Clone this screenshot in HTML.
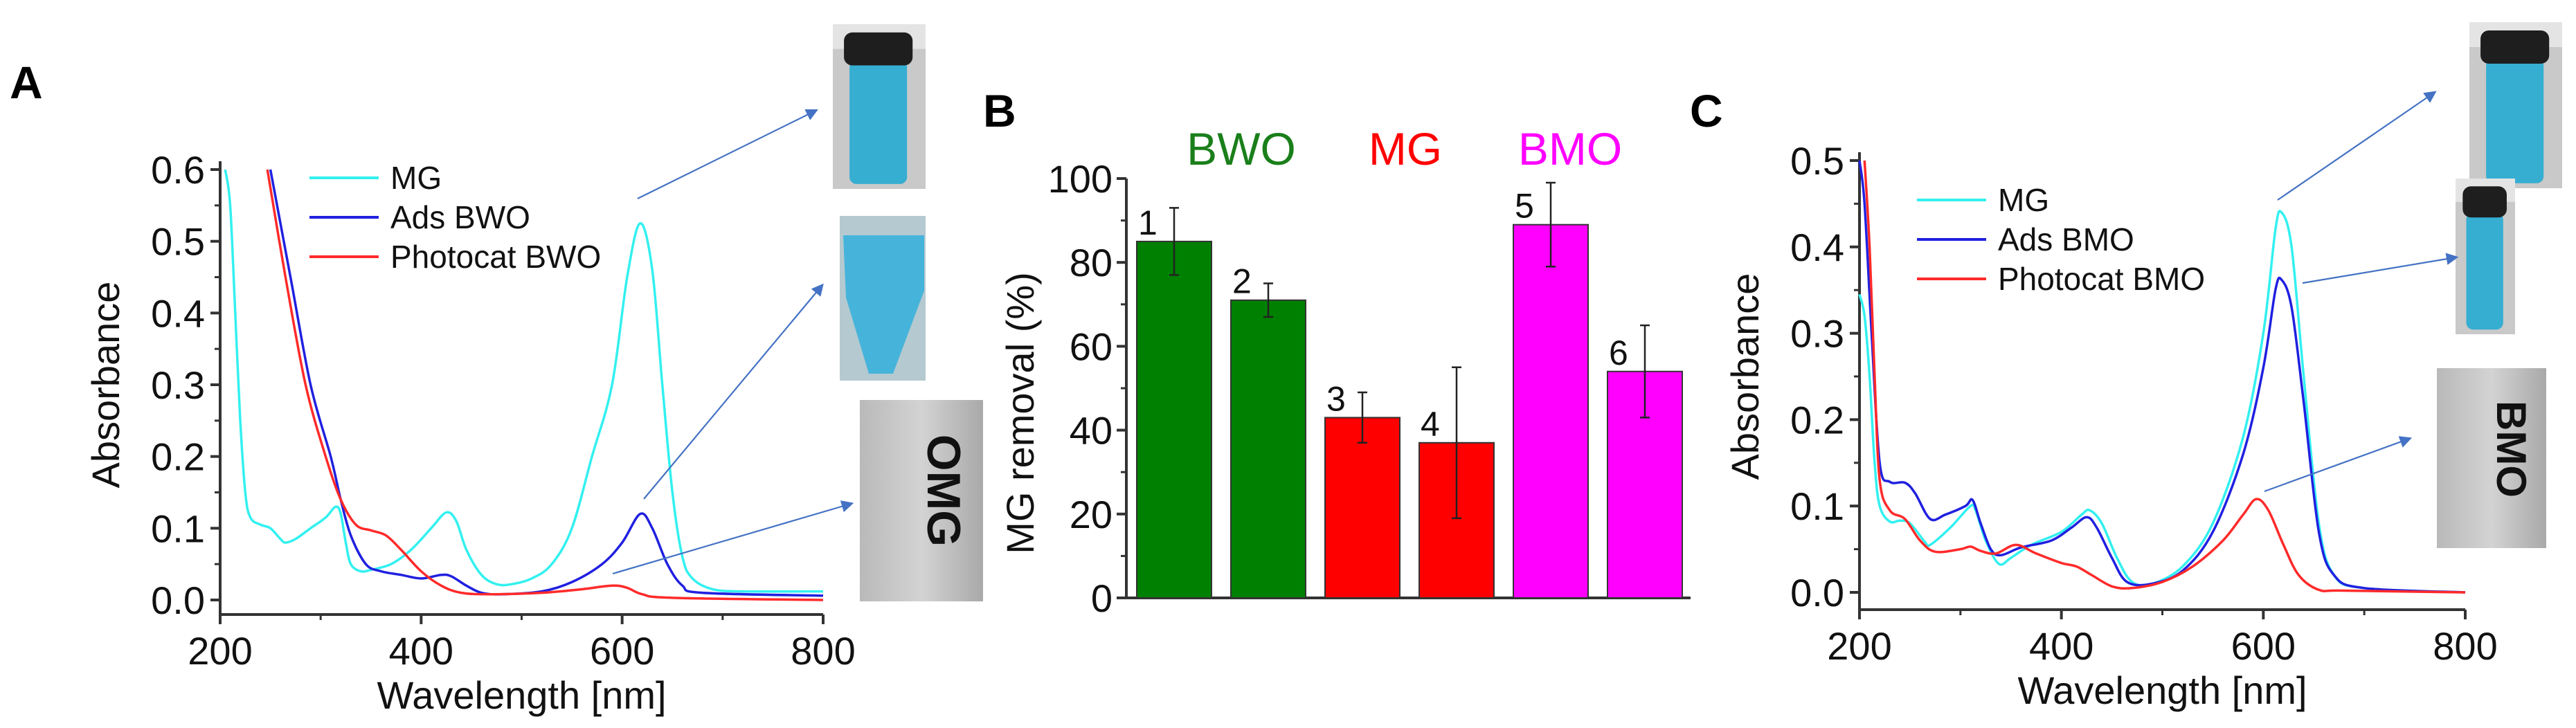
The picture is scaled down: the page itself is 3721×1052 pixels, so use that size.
<!DOCTYPE html>
<html><head><meta charset="utf-8"><style>
html,body{margin:0;padding:0;background:#fff;}
svg{display:block;font-family:"Liberation Sans",Arial,sans-serif;}
</style></head><body>
<svg id="fig" width="3721" height="1052" viewBox="0 0 3721 1052" xmlns="http://www.w3.org/2000/svg">
<defs>
<marker id="ah" markerWidth="8" markerHeight="8" refX="6" refY="4" orient="auto" markerUnits="strokeWidth"><path d="M0,0 L8,4 L0,8 z" fill="#4472c4"/></marker>
<linearGradient id="grey1" x1="0" y1="0" x2="1" y2="0"><stop offset="0" stop-color="#b9b9b9"/><stop offset="0.5" stop-color="#d3d3d3"/><stop offset="1" stop-color="#a9a9a9"/></linearGradient>
</defs>
<g id="root"></g>
</svg>
<script>
// ---------- Panel A data ----------
const aMgX=[205,210,215,220,225,230,240,250,260,265,275,290,305,315,320,325,330,340,350,370,390,410,425,435,445,460,475,490,510,530,550,570,590,605,618,630,640,650,660,670,690,720,800];
const aMgY=[0.6,0.55,0.4,0.25,0.15,0.115,0.105,0.1,0.085,0.08,0.085,0.1,0.115,0.13,0.12,0.08,0.05,0.04,0.042,0.05,0.07,0.1,0.122,0.11,0.07,0.035,0.022,0.022,0.03,0.05,0.1,0.2,0.3,0.45,0.525,0.46,0.3,0.15,0.06,0.03,0.015,0.012,0.012];
const aAdsX=[250,270,290,310,320,330,345,360,380,400,420,430,445,460,480,520,550,580,600,618,630,645,660,680,800];
const aAdsY=[0.6,0.45,0.3,0.2,0.14,0.09,0.05,0.04,0.035,0.03,0.035,0.033,0.02,0.01,0.008,0.012,0.025,0.05,0.08,0.12,0.1,0.05,0.02,0.01,0.006];
const aPhX=[247,265,285,305,320,335,350,365,380,400,420,440,470,520,560,590,605,620,650,800];
const aPhY=[0.6,0.45,0.3,0.2,0.14,0.105,0.097,0.09,0.07,0.04,0.02,0.01,0.008,0.01,0.015,0.02,0.017,0.008,0.003,0.0];
const aXTicks=[200,400,600,800];
const aYTicks=[0.0,0.1,0.2,0.3,0.4,0.5,0.6];
// ---------- Panel B data ----------
const bCats=["1","2","3","4","5","6"];
const bVals=[85,71,43,37,89,54];
const bErr=[8,4,6,18,10,11];
const bColors=["#008000","#008000","#ff0000","#ff0000","#ff00ff","#ff00ff"];
const bYTicks=[0,20,40,60,80,100];
// ---------- Panel C data ----------
const cMgX=[200,205,210,215,220,230,240,250,265,270,290,310,315,325,338,350,370,400,420,428,440,455,470,490,520,550,580,600,612,618,628,640,655,670,700,800];
const cMgY=[0.345,0.32,0.25,0.15,0.1,0.082,0.083,0.08,0.058,0.055,0.075,0.1,0.095,0.06,0.033,0.04,0.055,0.07,0.09,0.095,0.08,0.04,0.012,0.01,0.03,0.08,0.18,0.3,0.42,0.44,0.4,0.25,0.08,0.02,0.005,0.0];
const cAdsX=[200,205,212,220,230,245,255,270,285,305,312,320,330,340,360,390,410,425,435,450,465,490,520,550,580,600,612,618,628,640,655,670,700,800];
const cAdsY=[0.5,0.45,0.3,0.15,0.128,0.127,0.115,0.085,0.09,0.1,0.107,0.08,0.05,0.043,0.052,0.06,0.075,0.087,0.075,0.04,0.012,0.01,0.025,0.07,0.16,0.26,0.35,0.362,0.33,0.22,0.07,0.02,0.005,0.0];
const cPhX=[205,210,215,220,230,245,260,275,300,310,320,335,355,375,400,415,430,450,470,500,530,560,580,593,605,620,635,655,680,800];
const cPhY=[0.5,0.4,0.25,0.13,0.095,0.085,0.06,0.047,0.05,0.053,0.048,0.045,0.055,0.045,0.034,0.03,0.02,0.007,0.005,0.012,0.03,0.06,0.09,0.108,0.095,0.055,0.02,0.003,0.002,0.0];
const cXTicks=[200,400,600,800];
const cYTicks=[0.0,0.1,0.2,0.3,0.4,0.5];

const NS="http://www.w3.org/2000/svg";
const root=document.getElementById('root');
function mk(tag,attrs,parent,txt){const e=document.createElementNS(NS,tag);for(const k in attrs)e.setAttribute(k,attrs[k]);if(txt!==undefined)e.textContent=txt;(parent||root).appendChild(e);return e;}
function lin(d0,d1,r0,r1){return v=>r0+(v-d0)/(d1-d0)*(r1-r0);}
function smooth(pts){
  let d='M'+pts[0][0].toFixed(1)+','+pts[0][1].toFixed(1);
  for(let i=0;i<pts.length-1;i++){
    const p0=pts[Math.max(0,i-1)],p1=pts[i],p2=pts[i+1],p3=pts[Math.min(pts.length-1,i+2)];
    const c1=[p1[0]+(p2[0]-p0[0])/6,p1[1]+(p2[1]-p0[1])/6];
    const c2=[p2[0]-(p3[0]-p1[0])/6,p2[1]-(p3[1]-p1[1])/6];
    d+=` C${c1[0].toFixed(1)},${c1[1].toFixed(1)} ${c2[0].toFixed(1)},${c2[1].toFixed(1)} ${p2[0].toFixed(1)},${p2[1].toFixed(1)}`;
  }
  return d;
}

function spectrum(cfg){
  const g=mk('g',{});
  
  
  const X=lin(200,800,cfg.x0,cfg.x1), Y=lin(0,cfg.ymax,cfg.y0,cfg.ytop);
  const ax=mk('path',{d:`M${cfg.x0},${cfg.ytop-12} V${cfg.axisY} H${cfg.x1}`,fill:'none',stroke:'#333','stroke-width':4},g);
  
  
  for(const t of cfg.xt){mk('line',{x1:X(t),x2:X(t),y1:cfg.axisY,y2:cfg.axisY+14,stroke:'#333','stroke-width':4},g);
    const tl=mk('text',{x:X(t),y:cfg.axisY+72,'font-size':56,'text-anchor':'middle',fill:'#111'},g,String(t));
    
    }
  for(let t=300;t<800;t+=200)mk('line',{x1:X(t),x2:X(t),y1:cfg.axisY,y2:cfg.axisY+8,stroke:'#333','stroke-width':3},g);
  for(const t of cfg.yt){mk('line',{x1:cfg.x0-14,x2:cfg.x0,y1:Y(t),y2:Y(t),stroke:'#333','stroke-width':4},g);
    const tl=mk('text',{x:cfg.x0-22,y:Y(t)+20,'font-size':56,'text-anchor':'end',fill:'#111'},g,t.toFixed(1));
    
    
    if(t<cfg.ymax-0.01)mk('line',{x1:cfg.x0-8,x2:cfg.x0,y1:Y(t+0.05),y2:Y(t+0.05),stroke:'#333','stroke-width':3},g);}
  const xt=mk('text',{x:(cfg.x0+cfg.x1)/2,y:cfg.axisY+136,'font-size':56,'text-anchor':'middle',fill:'#111'},g,'Wavelength [nm]');
  
  
  const yt=mk('text',{x:0,y:0,'font-size':56,'text-anchor':'middle',fill:'#111',transform:`translate(${cfg.ylx},${(cfg.ytop+cfg.y0)/2}) rotate(-90)`},g,'Absorbance');
  
  
  cfg.series.forEach((s,i)=>{
    const p=mk('path',{d:smooth(s.x.map((v,j)=>[X(v),Y(s.y[j])])),fill:'none',stroke:s.c,'stroke-width':3.5,'stroke-linejoin':'round'},g);
    
    
    const ly=cfg.legY+i*57;
    const le=mk('g',{},g);
    
    
    mk('line',{x1:cfg.legX,x2:cfg.legX+100,y1:ly,y2:ly,stroke:s.c,'stroke-width':4},le);
    mk('text',{x:cfg.legX+117,y:ly+16,'font-size':46,fill:'#111'},le,s.label);
  });
}
spectrum({name:'panel-a-chart',x0:318,x1:1189,y0:867,ytop:245,ymax:0.6,axisY:888,xt:aXTicks,yt:aYTicks,ylx:172,legX:447,legY:257,
  series:[{id:'mg-line',x:aMgX,y:aMgY,c:'#33f0f0',label:'MG'},{id:'ads-bwo-line',x:aAdsX,y:aAdsY,c:'#2020e0',label:'Ads BWO'},{id:'photocat-bwo-line',x:aPhX,y:aPhY,c:'#ff2a2a',label:'Photocat BWO'}]});
spectrum({name:'panel-c-chart',x0:2686,x1:3561,y0:856,ytop:232,ymax:0.5,axisY:881,xt:cXTicks,yt:cYTicks,ylx:2540,legX:2769,legY:289,
  series:[{id:'mg-line',x:cMgX,y:cMgY,c:'#33f0f0',label:'MG'},{id:'ads-bmo-line',x:cAdsX,y:cAdsY,c:'#2020e0',label:'Ads BMO'},{id:'photocat-bmo-line',x:cPhX,y:cPhY,c:'#ff2a2a',label:'Photocat BMO'}]});

// ---------- Panel B ----------
(function(){
  const g=mk('g',{});
  
  
  const x0=1627,x1=2442,y0=864,ytop=258;
  const Y=lin(0,100,y0,ytop);
  const pitch=136, bw=108, first=1642;
  const ax=mk('path',{d:`M${x0},${ytop} V${y0} H${x1}`,fill:'none',stroke:'#333','stroke-width':4},g);
  
  
  bYTicks.forEach(t=>{mk('line',{x1:x0-14,x2:x0,y1:Y(t),y2:Y(t),stroke:'#333','stroke-width':4},g);
    const tl=mk('text',{x:x0-20,y:Y(t)+20,'font-size':56,'text-anchor':'end',fill:'#111'},g,String(t));
    
    
    if(t<100)mk('line',{x1:x0-8,x2:x0,y1:Y(t+10),y2:Y(t+10),stroke:'#333','stroke-width':3},g);});
  const yt=mk('text',{x:0,y:0,'font-size':56,'text-anchor':'middle',fill:'#111',transform:`translate(1493,597) rotate(-90)`},g,'MG removal (%)');
  
  
  bVals.forEach((v,i)=>{
    const bx=first+i*pitch;
    const r=mk('rect',{x:bx,y:Y(v),width:bw,height:y0-Y(v),fill:bColors[i],stroke:'#333','stroke-width':2},g);
    
    
    const cx=bx+bw/2, hi=Y(v+bErr[i]), lo=Y(v-bErr[i]);
    const eb=mk('path',{d:`M${cx},${hi} V${lo} M${cx-7},${hi} H${cx+7} M${cx-7},${lo} H${cx+7}`,stroke:'#222','stroke-width':2.5,fill:'none'},g);
    
    
    const lb=mk('text',{x:bx+2,y:Y(v)-10,'font-size':50,fill:'#111'},g,bCats[i]);
    
    
  });
  [['BWO',1793,'#1a7f1a'],['MG',2030,'#ff0000'],['BMO',2268,'#ff00ff']].forEach(h=>{
    const t=mk('text',{x:h[1],y:238,'font-size':66,'text-anchor':'middle',fill:h[2]},g,h[0]);
    
    
  });
})();

// ---------- panel letters ----------
[['A',14,142],['B',1420,183],['C',2441,183]].forEach(p=>{
  const t=mk('text',{x:p[1],y:p[2],'font-size':66,'font-weight':'bold',fill:'#000'},root,p[0]);
  
  
});

// ---------- photos ----------
function vial(x,y,w,h,name,cap){
  const g=mk('g',{});
  
  
  mk('rect',{x:x,y:y,width:w,height:h,fill:'#c9c9c9'},g);
  mk('rect',{x:x,y:y,width:w,height:h*0.15,fill:'#e4e4e4'},g);
  mk('rect',{x:x+w*0.18,y:y+h*(cap?0.22:0.05),width:w*0.62,height:h*(cap?0.75:0.9),rx:10,fill:'#36aed2'},g);
  if(cap)mk('rect',{x:x+w*0.12,y:y+h*0.05,width:w*0.74,height:h*0.2,rx:12,fill:'#1e1e1e'},g);
}
function clearTube(x,y,w,h,name,label){
  const g=mk('g',{});
  
  
  mk('rect',{x:x,y:y,width:w,height:h,fill:'url(#grey1)'},g);
  mk('text',{x:0,y:0,'font-size':Math.round(w*0.38),'font-weight':'bold',fill:'#111','text-anchor':'middle',transform:`translate(${x+w*0.55},${y+h*0.45}) rotate(90)`},g,label);
}
vial(1203,35,134,238,'photo-mg-vial-a',true);
{const g=mk('g',{});
 mk('rect',{x:1213,y:312,width:124,height:238,fill:'#b5c9d0'},g);
 mk('path',{d:'M1218,340 H1335 V420 L1290,540 H1255 L1222,430 z',fill:'#46b4da'},g);}
clearTube(1242,578,178,291,'photo-photocat-bwo-tube','OMG');
vial(3567,32,134,240,'photo-mg-vial-c',true);
vial(3547,258,86,225,'photo-ads-bmo-vial',true);
clearTube(3520,532,158,260,'photo-photocat-bmo-tube','BMO');

// ---------- arrows ----------
[[921,287,1178,160],[930,721,1187,413],[885,829,1229,728],[3290,289,3516,134],[3326,409,3547,372],[3271,710,3480,634]].forEach(a=>{
  const l=mk('line',{x1:a[0],y1:a[1],x2:a[2],y2:a[3],stroke:'#4472c4','stroke-width':2.2,'marker-end':'url(#ah)'});
  
  
});
</script>
</body></html>
